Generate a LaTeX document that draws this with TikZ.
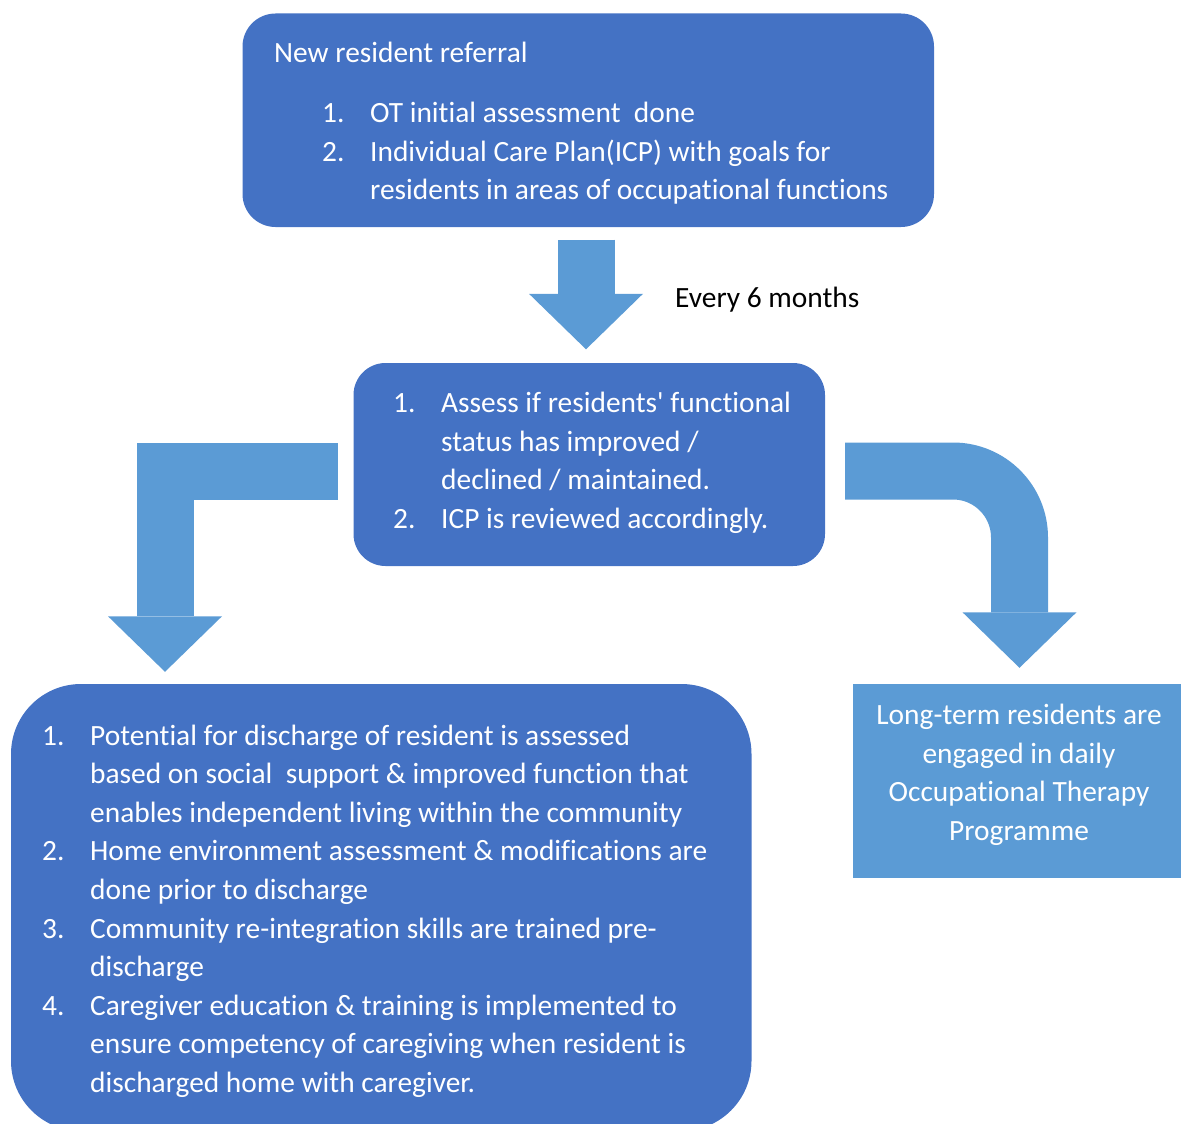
\documentclass[tikz,border=0pt]{standalone}
\usepackage{fontspec}
\setmainfont{Carlito}[Ligatures={NoCommon}]
\usepackage{xcolor}
\usetikzlibrary{arrows.meta}
\definecolor{boxblue}{HTML}{4472C4}
\definecolor{arrowblue}{HTML}{5B9BD5}
\definecolor{ink}{HTML}{000000}
\tikzset{
  every node/.style={inner sep=0pt,font=\fontsize{29.4}{38.6}\selectfont,text=white},
  box/.style={fill=boxblue,draw=none,rounded corners=33pt},
  bigbox/.style={box,rounded corners=70pt},
  flatbox/.style={fill=arrowblue,draw=none},
  listtext/.style={anchor=base west,align=left},
  centertext/.style={anchor=base,align=center},
  note/.style={anchor=base west,text=ink},
  blockarrow/.style={line width=57pt,draw=arrowblue,-{Triangle[width=114pt,length=55.5pt,line width=0pt]}},
}
\newcommand{\steplist}[1]{\begin{tabular}[t]{@{}p{48pt}@{}l@{}}#1\end{tabular}}
\newcommand{\centerlines}[1]{\begin{tabular}[t]{@{}c@{}}#1\end{tabular}}

\begin{document}
\begin{tikzpicture}[x=1pt,y=-1pt]
\useasboundingbox (0,0) rectangle (1181,1124);
% boxes
\node[box,minimum width=691.5pt,minimum height=213.5pt] (referral) at (588.25,120.25) {};
\node[box,rounded corners=32pt,minimum width=471.5pt,minimum height=203pt] (assess) at (589.25,464.5) {};
\node[bigbox,minimum width=740.5pt,minimum height=447pt] (discharge) at (381.25,907.5) {};
\node[flatbox,minimum width=332pt,minimum height=193.5pt] (longterm) at (1019,780.75) {};
% texts
\node[listtext] (referraltitle) at (274,63) {New resident referral};
\node[listtext] (referralitems) at (322,122.5) {\steplist{
  1. & OT initial assessment\ \ done\\
  2. & Individual Care Plan(ICP) with goals for\\
     & residents in areas of occupational functions}};
\node[listtext] (assessitems) at (393,412.5) {\steplist{
  1. & Assess if residents\textquotesingle{} functional\\
     & status has improved /\\
     & declined / maintained.\\
  2. & ICP is reviewed accordingly.}};
\node[listtext] (dischargeitems) at (42,745) {\steplist{
  1. & Potential for discharge of resident is assessed\\
     & based on social\ \ support \& improved function that\\
     & enables independent living within the community\\
  2. & Home environment assessment \& modifications are\\
     & done prior to discharge\\
  3. & Community re-integration skills are trained pre-\\
     & discharge\\
  4. & Caregiver education \& training is implemented to\\
     & ensure competency of caregiving when resident is\\
     & discharged home with caregiver.}};
\node[centertext] (longtermtext) at (1019,724.5) {\centerlines{
  Long-term residents are\\
  engaged in daily\\
  Occupational Therapy\\
  Programme}};
\node[note] (every) at (675,307.5) {Every 6 months};
% block arrows
\draw[blockarrow] ([shift={(-2.25,12.5)}]referral.south) -- ([shift={(-3.25,-13.5)}]assess.north);
\draw[blockarrow] ([shift={(-15.5,7)}]assess.west) -| ([shift={(-216.25,-12)}]discharge.north);
\draw[blockarrow,rounded corners=66.5pt] ([shift={(20,6.5)}]assess.east) -| ([shift={(0.5,-16)}]longterm.north);
\end{tikzpicture}
\end{document}
